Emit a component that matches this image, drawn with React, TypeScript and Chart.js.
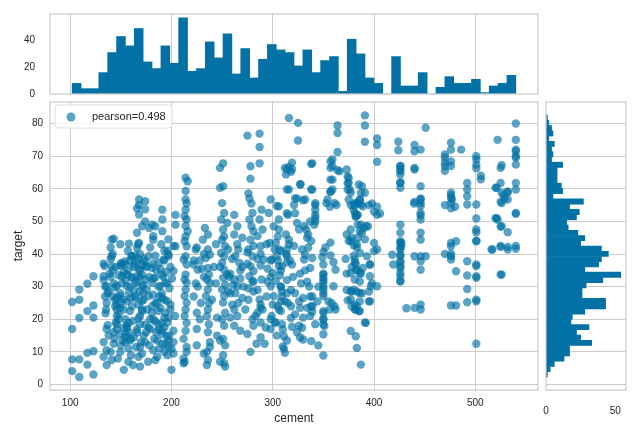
import React, { useEffect, useRef } from "react";
import { Chart, registerables } from "chart.js";

Chart.register(...registerables);

// ---------- data ----------
const legendLabel = "pearson=0.498";
const xTitle = "cement";
const yTitle = "target";

const cementRange = [102, 540];
const targetRange = [2.33, 82.6];

// histogram counts (50 bins each)
const cementCounts = [8, 4, 4, 16, 31, 43, 36, 49, 24, 19, 36, 23, 57, 17, 19, 39, 27, 45, 15, 34, 12, 26, 37, 33, 31, 21, 33, 16, 25, 28, 2, 41, 30, 12, 8, 0, 28, 6, 6, 16, 0, 5, 13, 8, 8, 11, 1, 6, 8, 14];
const targetCounts = [1, 3, 6, 13, 17, 17, 33, 25, 22, 31, 18, 19, 28, 43, 43, 26, 26, 29, 41, 54, 28, 38, 40, 45, 40, 25, 28, 23, 16, 15, 22, 24, 17, 27, 5, 12, 11, 8, 8, 8, 12, 4, 5, 4, 6, 2, 5, 4, 2, 1];

const cementTicks = [100, 200, 300, 400, 500];
const targetTicks = [0, 10, 20, 30, 40, 50, 60, 70, 80];
const cementCountTicks = [0, 20, 40];
const targetCountTicks = [0, 50];

// scatter points [cement, target]
const ptsLow: number[][] = [
  [102, 25.3], [102, 17.0], [102, 7.7], [102, 4.1], [109, 29.1], [109, 20.4], [109, 7.7], [109, 2.3],
  [117, 30.9], [117, 22.5], [117, 9.7], [117, 6.1], [123, 33.2], [123, 24.2], [123, 10.2], [123, 3.1],
  [141, 44.4], [143, 44.7], [158, 43.2], [134, 36.3], [133, 33.2], [141, 39.3], [141, 36.3], [136, 30.1],
  [137, 28.0], [144, 29.7], [146, 26.6], [146, 23.0], [135, 21.8], [137, 18.2], [151, 36.8], [154, 37.7],
  [161, 39.3], [166, 41.9], [168, 43.4], [166, 46.5], [171, 48.5], [168, 52.1], [174, 50.0], [178, 48.0],
  [181, 49.0], [184, 48.5], [168, 56.7], [174, 56.2], [168, 55.0], [174, 53.7], [166, 54.0], [191, 53.6],
  [191, 50.6], [191, 47.0], [182, 45.5], [182, 44.4],
  [140, 42], [142, 40], [149.5, 43], [157, 41], [167, 43], [169, 40], [179, 42], [184, 39.5], [190, 43], [193, 41], [197, 39.8], [202, 42.5],
  [133, 37], [140, 38.5], [142, 35], [149.5, 36.5], [153, 34.5], [159, 38], [162.6, 36], [166, 37.5], [169, 35], [172.5, 38.5], [176, 36], [182, 37], [189, 35.5], [193, 38], [199, 36], [202, 34.8],
  [133, 32], [134.5, 30], [140, 33], [143, 31], [148, 33.5], [154.5, 32], [159, 30], [160.5, 33], [166, 31.5], [169, 33], [172.5, 30.5], [182, 32.5], [187, 30], [192, 33], [195.6, 31], [200.6, 32.5],
  [109, 26], [134.5, 27], [136, 25], [138, 28.5], [144.5, 26], [146, 24.5], [149.5, 28], [156, 25.5], [158, 28], [164.5, 26.5], [167.5, 24.5], [169, 28.5], [172.5, 26], [182, 27.5], [186, 25], [190.5, 28], [193, 26], [199, 24.5],
  [123, 20.5], [135.5, 23], [146, 21], [149.5, 23.5], [154.5, 20], [159, 22.5], [169, 21], [176, 23], [182, 20], [187, 22.5], [193, 20.5], [199, 23], [203.5, 21],
  [136, 17], [146, 18.5], [149.5, 15.5], [153, 17.5], [154.5, 14.5], [156, 18], [166, 16], [169, 18.5], [172.5, 15], [179, 17], [187, 18.5], [190.5, 15.5], [193, 17.5], [195.5, 14.8], [202, 16.5],
  [133, 13], [136, 10.5], [143, 12.5], [149.5, 10], [154.5, 13], [157.5, 11], [159, 13.5], [169, 11.5], [174, 13], [182, 10.5], [190.5, 12.5], [193, 10], [197, 13.5], [200, 11], [202, 9.5],
  [133, 8.5], [136, 6], [141, 7.5], [153, 4.5], [157.5, 7], [167.5, 8.5], [169, 5.5], [184, 7.5], [200, 4.5], [212, 6.5],
  [150.4, 37.3], [154.4, 36.8], [160.3, 39.4], [164.3, 39.6], [167.6, 38.3], [174.2, 37.8], [177.5, 39.4], [162.6, 36.8], [167.6, 35.3], [174.2, 36.3], [180.8, 35.8], [187.4, 37.3], [192.3, 38.3], [197.2, 39.4],
  [151.1, 33.2], [156, 33.7], [161, 32.7], [165.9, 33.2], [170.9, 33.7], [174.2, 32.2], [184, 32.7], [190.6, 33.7],
  [146.1, 30.2], [156, 30.2], [164.3, 31.2], [170.9, 30.2], [175.8, 29.1], [180.8, 31.2], [189, 30.2], [193.9, 31.2],
  [149.4, 27.1], [152.7, 26.1], [164.3, 27.1], [170.9, 25.6], [177.5, 27.1], [184, 25], [190.6, 26.6], [195.6, 25.6],
  [144.5, 24], [152.7, 23], [161, 24], [170.9, 23], [180.8, 22], [189, 23.5], [193.9, 22],
  [147.8, 19.9], [157.7, 18.9], [167.6, 20.4], [174.2, 18.4], [184, 19.4], [190.6, 18.9],
  [146.1, 16.9], [156, 17.4], [165.9, 16.9], [177.5, 17.4], [187.4, 16.9],
  [138, 15], [144, 14], [150, 12], [155, 15.5], [160, 9], [163, 14.5], [165, 11.5], [171, 9.5], [175, 16], [178, 12], [183, 14], [186, 8.5],
  [188, 11], [191, 16.5], [196, 9], [198, 15], [140, 10], [147, 8], [152, 13.5], [162, 6], [177, 7], [186, 13.5], [194, 12.5], [158, 16], [145, 19],
  [139, 34], [145, 36], [151, 31], [157, 35], [163, 29], [171, 36.5], [178, 33], [185, 35], [195, 34.5], [142, 27], [150, 25], [160, 26.5],
  [172, 28], [181, 24], [188, 27], [148, 21.5], [162, 19.5], [171, 22.5], [179, 20], [196, 19], [143, 16], [160, 14], [170, 13], [185, 16], [197, 11.5],
];

const ptsMid: number[][] = [
  [214, 63.4], [216, 62.3], [214, 59.3], [214, 56.7], [215, 55.5], [214, 53.6], [213, 51.6], [215, 50.6], [214, 48.6], [216, 47], [214, 45.4], [213, 43.9],
  [215, 42.4], [214, 39.3], [212, 38.3], [215, 36.8], [214, 33.7], [213, 32.2], [215, 31.2], [214, 29.1], [213, 27.1], [215, 25.1], [214, 23], [213, 21],
  [215, 18.9], [214, 16.5], [212, 14], [215, 11.5], [213, 7],
  [197, 44.5], [196, 41], [198, 29.5], [197, 20.5], [204, 52], [204, 49], [204, 42.4], [224, 41.4], [222, 36.8], [226, 35.2],
  [233, 48], [236, 46], [231, 44.4], [236, 41.4], [238, 39.8], [234, 38.8], [236, 35.7], [237, 33.7], [235, 32.2], [238, 31.1], [236, 29.1], [234, 27.1],
  [237, 25], [236, 23], [235, 21], [237, 18.5], [236, 16], [238, 13], [235, 10], [236, 7.5],
  [248, 66.4], [251, 67.8], [248, 60.3], [251, 60.8], [250, 55.6], [252, 52.6], [249, 50.6], [251, 47.5], [252, 45.4], [250, 44.4], [253, 42.4], [249, 40.3],
  [252, 39.3], [250, 37.3], [252, 35.2], [251, 32.7], [253, 30.6], [250, 29.1], [252, 27.1], [251, 25.1], [253, 22], [250, 20], [252, 18], [251, 14], [253, 12], [251, 9], [252, 6.5],
  [255, 49.5], [256, 41.4], [255, 33.7], [257, 33],
  [262, 52], [265, 48.5], [262, 46], [266, 41.4], [263, 39.3], [267, 37.3], [262, 32.2], [265, 30.1], [263, 28], [266, 25], [262, 23], [265, 21],
  [278, 66.9], [278, 63.1], [276, 58.6], [277, 57], [279, 55.5], [280, 52.6], [277, 50.6], [279, 48.5], [281, 47], [278, 44.4], [276, 41.4], [280, 39.3], [278, 36.3], [277, 33.2], [280, 31.7],
  [275, 76.3], [287, 76.9], [287, 72.8], [287, 67.8],
  [289, 53.6], [287, 50.6], [290, 47.5], [288, 42.4], [291, 38.3], [289, 32.2], [287, 26.1], [290, 23], [288, 19],
  [298, 56.7], [304, 54.7], [296, 52.6], [301, 48.5], [305, 45.4], [297, 43.4], [302, 41.4], [299, 38.3], [306, 36.3], [300, 34.2], [303, 31.7], [298, 30.1],
  [301, 27.1], [305, 24], [299, 21], [302, 19],
  [225, 42], [232, 40], [265, 43], [275, 40.5], [281, 42.5], [288, 40], [294, 43], [308, 41], [314, 39.5],
  [222, 38], [230, 35.5], [248, 36], [260, 38.5], [268, 35], [275, 37], [281, 34.8], [288, 36.5], [298, 38], [308, 35], [314, 37.5],
  [224, 31], [232, 33], [261, 30.5], [268, 32.5], [276, 29.5], [281, 31.5], [298, 33], [308, 30], [314, 32],
  [222, 27], [229, 25], [258, 28], [276, 26], [281, 28.5], [288, 24.5], [294, 27], [308, 25.5], [314, 28],
  [225, 22], [258, 20.5], [273, 23], [283, 21], [288, 23.5], [298, 20], [308, 22.5],
  [225, 17], [275, 15.5], [281, 18], [288, 14.5], [298, 17], [304, 15], [309, 18.5],
  [202, 13], [215, 10], [225, 12], [232, 9.5], [238, 11.5], [248, 13.5], [278, 10], [284, 12.5], [311, 11], [314, 13.5],
  [212, 8], [235, 6], [248, 7], [253, 5.5],
  [228, 38], [242, 36], [258, 34], [270, 36], [285, 38.5], [295, 35.5], [305, 38], [226, 30], [244, 31], [256, 28.5], [271, 30], [285, 29],
  [295, 31.5], [240, 26], [260, 24.5], [270, 26.5], [285, 22], [300, 24.5], [245, 20.5], [262, 18], [280, 20], [293, 17.5], [245, 15], [268, 16.5],
  [292, 12.5], [228, 20], [244, 43], [270, 45], [285, 45.5],
];

const ptsUpper: number[][] = [
  [316, 81.7], [325, 80.2], [325, 74.8], [364, 79.4], [364, 77.1], [364, 71.3], [391, 82.5], [391, 79.4], [391, 74.4], [403, 75.4], [403, 73.4], [403, 68.3],
  [316, 66.7], [318, 65.2], [314, 65.9], [313, 64.4], [316, 59.8], [324, 57], [330, 56.5], [315, 52], [339, 67.8], [339, 59.8], [342, 55], [342, 53.6],
  [342, 51.1], [341, 49], [327.5, 61.4], [359, 69], [359, 66.9], [359, 62.8], [357, 59.2], [359, 59.8], [366, 65.4], [363, 55], [356.5, 54.5],
  [375, 63.3], [375, 61.8], [376, 59.8], [377, 58.8], [381, 55.6], [380, 55], [383, 52], [382, 51.5], [388, 60.8], [391, 58.8], [386, 56.5], [387, 55.2],
  [384, 55.5], [387, 49], [394, 48.5], [398, 55.5], [403, 54.5], [406, 52.4], [378, 45], [377, 44], [383, 43], [391, 44.5],
  [312, 66.4], [319, 68], [319, 66], [338, 67.6], [327, 61.3], [314, 59.8], [338, 59.8], [357, 68.4], [357, 66.4], [364, 65.7], [357, 62.8], [357, 59],
  [354, 56.7], [361, 55.6], [353, 55.6], [322, 57], [332, 56.7], [321, 55], [314, 52.5], [322, 52.5], [306, 54.6], [306, 50.6], [306, 47.5], [342, 55.6],
  [342, 52], [342, 50], [337, 50], [324, 49.5], [333, 47.5], [313, 46], [316, 44.4], [314, 41.4], [303, 43.5], [306, 41.4], [304, 39.3], [334, 45],
  [335, 42], [329, 41.4], [332, 39.8], [331, 38.3], [339, 38.8], [313, 40], [317, 38], [309, 36.3], [319, 36.8], [307, 33.5], [350, 40.6], [357, 39.6],
  [349, 39], [360, 37.5], [350, 36.8], [362, 35.2], [350, 33.7], [350, 32.7], [350, 31.2], [350, 29.1], [350, 27.1], [339, 27], [339, 24], [358, 25],
  [362, 23], [350, 22], [350, 20], [350, 18.4], [339, 22.3], [334, 23.5], [322, 21.5], [326, 25.5], [330, 26.5], [309, 27], [315, 25], [306, 23], [303, 19],
  [373, 65.9], [374, 63.8], [374, 61.7], [374, 59.8], [375, 56.7], [377, 55], [380, 53.6], [381, 52.6], [382, 51.5], [384, 52], [385, 61.3], [387, 58.7],
  [386, 56.7], [383, 55.6], [389, 54.6], [395, 55], [400, 53], [403, 52], [384, 49], [386, 47], [388, 46.5], [392, 48.5], [390, 48], [373, 46],
  [377, 47.5], [384, 45], [375, 44], [380, 42.7], [383, 42], [400, 43.4], [400, 40.9], [393, 39.3], [396, 36.8], [372, 38.5], [380, 39.5], [382, 37],
  [378, 36], [373, 34], [384, 35], [389, 35.7], [387, 34], [373, 29], [378, 28.5], [383, 28.5], [388, 28], [395, 28.5], [374, 25.8], [378, 24],
  [382, 23], [385, 22.5], [395, 25.5], [398, 31], [391, 19],
  [308, 30], [309, 28.5], [312, 25.5], [310, 16.9], [311, 14.8], [310, 11.7], [312, 9.7], [318, 29], [318, 20.4], [319, 17.7], [327, 34], [328, 31],
  [327, 23.5], [326, 18], [329, 17.4], [327, 14.4], [330, 13.8], [337, 35.7], [336, 30], [337, 27], [338, 24], [337, 21], [338, 13.3], [350, 34],
  [350, 32], [350, 30], [350, 28], [350, 22.5], [350, 20], [351, 17.9], [350, 15.4], [350, 8.9], [355, 25.5], [356, 23], [360, 30.1], [361, 24],
  [377, 34.2], [377, 28.6], [377, 26.1], [377, 16.4], [381, 38.3], [381, 37.3], [382, 35.2], [381, 32.2], [380, 29.1], [381, 24.5], [383, 24], [381, 23],
  [382, 14.8], [383, 11.2], [387, 6.1], [386, 40.3], [386, 34.2], [386, 31.6], [386, 28], [386, 25.5], [386, 22.5], [392, 18.9], [396, 36.8], [396, 33.2],
  [397, 30.1], [396, 25.5], [403, 41.4], [403, 30.1],
  [335, 46], [338, 44], [352, 42], [357, 43.5], [316, 43], [321, 42.5], [326, 47.5], [331, 48.5],
  [320, 33], [332, 35], [345, 30], [322, 28], [334, 31.5], [344, 25.5], [318, 24], [330, 20.5], [342, 18.5], [324, 16], [345, 12],
];

const ptsHigh: number[][] = [
  [424, 74.4], [424, 71.8], [440, 73.4], [440, 71.5], [451, 78.7], [440, 65.9], [476, 74.1], [476, 72], [486, 72], [470, 69.6], [470, 68], [470, 65.5],
  [476, 67], [501, 69], [501, 66.3], [505.5, 62.9], [522, 75], [540, 80], [540, 75], [540, 72], [540, 70], [540, 67.4], [525, 66.4], [540, 61.8],
  [540, 59.8], [525, 61.8], [520, 60.3], [532, 59.1], [528, 58], [529, 57], [525, 56], [540, 52.3], [520, 51], [522, 50.5], [525, 48.4], [532, 46.7],
  [525, 42.5], [532, 42.2], [540, 42.5], [501, 55.2], [501, 50.9], [501, 47.5], [501, 44.1], [492, 61.8], [492, 59.8], [492, 57.7], [492, 55.2], [476, 58],
  [477, 56.7], [480, 54.5], [470, 55], [446, 60.8], [446, 56.7], [446, 54.7], [446, 52.6], [446, 50.6], [446, 46.5], [439.5, 55.5], [446, 44.4],
  [426, 66.9], [426, 65.9], [426, 65.4], [426, 64.4], [426, 61.8], [426, 60.3], [426, 49], [426, 46.5], [427, 43.5], [427, 42.5],
  [426, 67], [426, 62], [426, 43.4], [426, 41.4], [426, 39.3], [426, 37.3], [426, 35.7], [426, 33.2], [426, 31.7], [418, 39.8], [419, 36.8], [446, 57],
  [446, 55.6], [446, 51.8], [446, 39.3], [446, 37.8], [446, 35.2], [446, 24.5], [446, 23], [440, 66.4], [440, 56], [440, 39.3], [432, 23.4], [446, 72],
  [470, 70.5], [470, 67], [476, 68.4], [476, 58.8], [476, 57.2], [476, 55.6], [476, 54], [476, 43.4], [476, 42.4], [476, 39.3], [476, 38.3], [481, 43.9],
  [481, 34.7], [481, 24.2], [492, 37.8], [492, 33.4], [492, 29.3], [492, 25.2], [501, 70], [501, 67.4], [501, 46.7], [501, 36.3], [501, 32.7], [501, 25.5],
  [505.5, 64], [517, 41.4], [521, 60.3], [521, 51], [526, 67.2], [526, 58.8], [526, 55.6], [526, 48.5], [526, 33.7], [532, 59], [532, 56.7], [532, 41.4],
  [540, 71.5], [540, 69.5], [540, 52.6], [540, 41.6],
  [476, 40], [470, 40], [451, 39.3], [440, 23.5], [426, 43.9], [426, 41.9], [426, 39.8], [426, 37.8], [426, 36.2], [426, 34.2], [426, 31.6],
  [501, 43.9], [501, 36.8], [501, 33.2], [501, 26], [501, 12.5], [476, 24.2], [516, 41.4], [525, 33.7], [525, 42.2],
];

// ---------- style ----------
const BASE = "rgb(2,113,165)";
const POINT = "rgba(2,113,165,0.65)";
const GRID = "#cccccc";
const TEXT = "#262626";
const FONT = "'Liberation Sans', Arial, sans-serif";

const xLim = [80.1, 561.9];
const yLim = [-1.68, 86.6];

function binCenters(range: number[], n: number) {
  const w = (range[1] - range[0]) / n;
  return Array.from({ length: n }, (_, i) => range[0] + w * (i + 0.5));
}

const framePlugin = {
  id: "frame",
  afterDatasetsDraw(chart: any) {
    const { ctx, chartArea: a } = chart;
    ctx.save();
    ctx.strokeStyle = GRID;
    ctx.lineWidth = 1.25;
    ctx.strokeRect(a.left, a.top, a.right - a.left, a.bottom - a.top);
    ctx.restore();
  },
};

const legendPlugin = {
  id: "pearsonLegend",
  afterDraw(chart: any) {
    const { ctx, chartArea: a } = chart;
    const x = a.left + 5, y = a.top + 3, w = 117, h = 23, r = 3;
    ctx.save();
    ctx.beginPath();
    ctx.moveTo(x + r, y);
    ctx.arcTo(x + w, y, x + w, y + h, r);
    ctx.arcTo(x + w, y + h, x, y + h, r);
    ctx.arcTo(x, y + h, x, y, r);
    ctx.arcTo(x, y, x + w, y, r);
    ctx.closePath();
    ctx.fillStyle = "rgba(255,255,255,0.8)";
    ctx.fill();
    ctx.strokeStyle = "#dedede";
    ctx.lineWidth = 1;
    ctx.stroke();
    ctx.beginPath();
    ctx.arc(x + 16, y + h / 2 + 0.5, 4.5, 0, Math.PI * 2);
    ctx.fillStyle = POINT;
    ctx.fill();
    ctx.fillStyle = TEXT;
    ctx.font = `11px ${FONT}`;
    ctx.textBaseline = "middle";
    ctx.textAlign = "left";
    ctx.fillText(chart.data.datasets[0].label, x + 37, y + h / 2);
    ctx.restore();
  },
};

const tickFont = { family: FONT, size: 10 };
const titleFont = { family: FONT, size: 12 };

function setTicks(values: number[]) {
  return (scale: any) => {
    scale.ticks = values.map((v) => ({ value: v }));
  };
}

export default function App() {
  const mainRef = useRef<HTMLCanvasElement>(null);
  const topRef = useRef<HTMLCanvasElement>(null);
  const rightRef = useRef<HTMLCanvasElement>(null);

  useEffect(() => {
    const points = [...ptsLow, ...ptsMid, ...ptsUpper, ...ptsHigh].map(([x, y]) => ({ x, y }));
    const cCenters = binCenters(cementRange, cementCounts.length);
    const tCenters = binCenters(targetRange, targetCounts.length);

    const common = {
      responsive: false,
      animation: false as const,
      events: [] as any[],
    };

    const main = new Chart(mainRef.current!, {
      type: "scatter",
      data: {
        datasets: [
          {
            label: legendLabel,
            data: points,
            backgroundColor: POINT,
            borderWidth: 0,
            pointRadius: 4.2,
            pointHoverRadius: 4.2,
          },
        ],
      },
      options: {
        ...common,
        layout: { padding: { left: 0, top: 102, right: 102, bottom: 0 } },
        plugins: { legend: { display: false }, tooltip: { enabled: false } },
        scales: {
          x: {
            type: "linear",
            min: xLim[0],
            max: xLim[1],
            afterFit: (s: any) => { s.height = 50; },
            afterBuildTicks: setTicks(cementTicks),
            grid: { color: GRID, lineWidth: 1, drawTicks: false },
            border: { display: false },
            ticks: { color: TEXT, font: tickFont, padding: 7, maxRotation: 0 },
            title: { display: true, text: xTitle, color: TEXT, font: titleFont, padding: { top: 0, bottom: 14 } },
          },
          y: {
            type: "linear",
            min: yLim[0],
            max: yLim[1],
            afterFit: (s: any) => { s.width = 50; },
            afterBuildTicks: setTicks(targetTicks),
            grid: { color: GRID, lineWidth: 1, drawTicks: false },
            border: { display: false },
            ticks: { color: TEXT, font: tickFont, padding: 7 },
            title: { display: true, text: yTitle, color: TEXT, font: titleFont, padding: { top: 11, bottom: 0 } },
          },
        },
      },
      plugins: [framePlugin, legendPlugin],
    } as any);

    const top = new Chart(topRef.current!, {
      type: "bar",
      data: {
        datasets: [
          {
            data: cCenters.map((x, i) => ({ x, y: cementCounts[i] })),
            backgroundColor: BASE,
            borderWidth: 0,
            barPercentage: 1,
            categoryPercentage: 1,
          },
        ],
      },
      options: {
        ...common,
        layout: { padding: { left: 0, top: 14, right: 102, bottom: 346 } },
        plugins: { legend: { display: false }, tooltip: { enabled: false } },
        scales: {
          x: {
            type: "linear",
            min: xLim[0],
            max: xLim[1],
            offset: false,
            afterFit: (s: any) => { s.height = 0; },
            afterBuildTicks: setTicks(cementTicks),
            grid: { color: GRID, lineWidth: 1, drawTicks: false, offset: false },
            border: { display: false },
            ticks: { display: false },
          },
          y: {
            type: "linear",
            min: 0,
            max: 59.85,
            afterFit: (s: any) => { s.width = 50; },
            afterBuildTicks: setTicks(cementCountTicks),
            grid: { display: false },
            border: { display: false },
            ticks: { color: TEXT, font: tickFont, padding: 7 },
          },
        },
      },
      plugins: [framePlugin],
    } as any);

    const right = new Chart(rightRef.current!, {
      type: "bar",
      data: {
        datasets: [
          {
            data: tCenters.map((y, i) => ({ x: targetCounts[i], y })),
            backgroundColor: BASE,
            borderWidth: 0,
            barPercentage: 1,
            categoryPercentage: 1,
          },
        ],
      },
      options: {
        ...common,
        indexAxis: "y",
        layout: { padding: { left: 546, top: 102, right: 14, bottom: 0 } },
        plugins: { legend: { display: false }, tooltip: { enabled: false } },
        scales: {
          x: {
            type: "linear",
            min: 0,
            max: 57.75,
            afterFit: (s: any) => { s.height = 50; },
            afterBuildTicks: setTicks(targetCountTicks),
            grid: { display: false },
            border: { display: false },
            ticks: { color: TEXT, font: tickFont, padding: 7, maxRotation: 0 },
          },
          y: {
            type: "linear",
            min: yLim[0],
            max: yLim[1],
            offset: false,
            afterFit: (s: any) => { s.width = 0; },
            afterBuildTicks: setTicks(targetTicks),
            grid: { color: GRID, lineWidth: 1, drawTicks: false, offset: false },
            border: { display: false },
            ticks: { display: false },
          },
        },
      },
      plugins: [framePlugin],
    } as any);

    return () => {
      main.destroy();
      top.destroy();
      right.destroy();
    };
  }, []);

  const cv: React.CSSProperties = { position: "absolute", left: 0, top: 0 };
  return (
    <div style={{ position: "absolute", left: 0, top: 0, width: 640, height: 440, background: "#ffffff" }}>
      <canvas ref={topRef} width={640} height={440} style={cv} />
      <canvas ref={rightRef} width={640} height={440} style={cv} />
      <canvas ref={mainRef} width={640} height={440} style={cv} />
    </div>
  );
}
